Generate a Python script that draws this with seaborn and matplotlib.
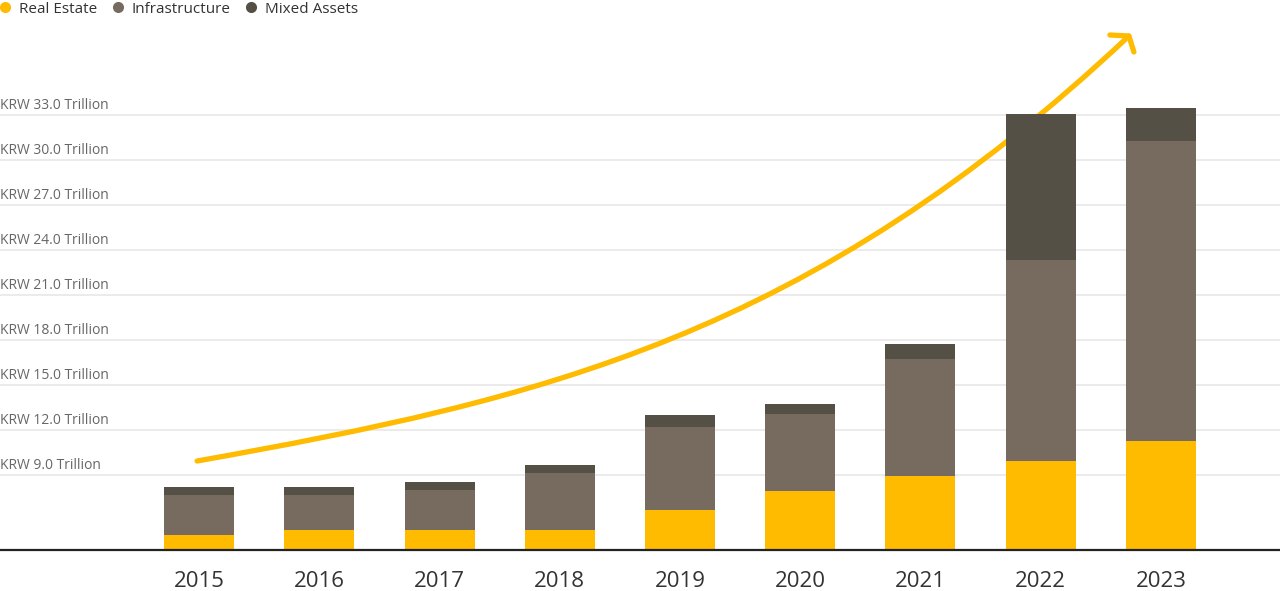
import matplotlib
matplotlib.use("Agg")
import matplotlib.pyplot as plt
import matplotlib.transforms as mtransforms
from matplotlib.path import Path
from matplotlib.patches import PathPatch
from matplotlib.lines import Line2D
import numpy as np
import pandas as pd
import seaborn as sns

# ---------------- data ----------------
years = ["2015", "2016", "2017", "2018", "2019", "2020", "2021", "2022", "2023"]
real_estate = [5.00, 5.33, 5.33, 5.33, 6.67, 7.93, 8.93, 9.93, 11.27]
infrastructure = [2.67, 2.33, 2.67, 3.80, 5.53, 5.13, 7.80, 13.40, 20.00]
mixed_assets = [0.53, 0.53, 0.53, 0.53, 0.80, 0.67, 1.00, 9.73, 2.20]
series_names = ["Real Estate", "Infrastructure", "Mixed Assets"]
tick_values = [9.0, 12.0, 15.0, 18.0, 21.0, 24.0, 27.0, 30.0, 33.0]
tick_labels = [f"KRW {v:.1f} Trillion" for v in tick_values]

colors = {"Real Estate": "#FFBB00", "Infrastructure": "#766B5E", "Mixed Assets": "#545045"}

df = pd.DataFrame({
    "year": years,
    "re": real_estate,
    "re_inf": np.array(real_estate) + np.array(infrastructure),
    "total": np.array(real_estate) + np.array(infrastructure) + np.array(mixed_assets),
})

sns.set_theme(style="white")
plt.rcParams["font.family"] = ["Open Sans", "DejaVu Sans"]

fig = plt.figure(figsize=(12.8, 5.91), dpi=100)
ax = fig.add_axes([0, 41 / 591, 1, 550 / 591])

ymin = 4.0
ymax = ymin + 550 / 15
ax.set_ylim(ymin, ymax)

# gridlines
for v in tick_values:
    ax.axhline(v, color="#e8e8e8", lw=1.2, zorder=0)

width = 70 / 120.25
sns.barplot(data=df, x="year", y="total", color=colors["Mixed Assets"], width=width,
            saturation=1, ax=ax, zorder=2, errorbar=None, linewidth=0)
sns.barplot(data=df, x="year", y="re_inf", color=colors["Infrastructure"], width=width,
            saturation=1, ax=ax, zorder=3, errorbar=None, linewidth=0)
sns.barplot(data=df, x="year", y="re", color=colors["Real Estate"], width=width,
            saturation=1, ax=ax, zorder=4, errorbar=None, linewidth=0)
for p in ax.patches:
    p.set_edgecolor("none")

ax.set_xlim(-0.5 - 139 / 120.25, 8.5 + 59 / 120.25)

# arrow (decorative trend curve), pixel-space control points converted to data
def px2data(px, py):
    return ((px - 199) / 120.25, ymin + (550 - py) / 15)

p0 = (197, 461)
p3 = (1129, 36)
a, b = 345, 320
p1 = (p0[0] + a, p0[1] - 0.178 * a)
p2 = (p3[0] - b, p3[1] + 0.94 * b)
verts = [px2data(*p) for p in (p0, p1, p2, p3)]
path = Path(verts, [Path.MOVETO, Path.CURVE4, Path.CURVE4, Path.CURVE4])
ax.add_patch(PathPatch(path, fill=False, edgecolor="#FFBB00", lw=3.8,
                       capstyle="round", zorder=1))
head = [px2data(1110, 35), px2data(1129, 36), px2data(1134, 52)]
ax.plot([h[0] for h in head], [h[1] for h in head], color="#FFBB00", lw=3.8,
        solid_capstyle="round", solid_joinstyle="round", zorder=1)

# axes styling
for s in ["top", "right", "left"]:
    ax.spines[s].set_visible(False)
ax.spines["bottom"].set_color("#222222")
ax.spines["bottom"].set_linewidth(1.6)
ax.spines["bottom"].set_zorder(5)
ax.set_yticks([])
ax.set_xlabel("")
ax.set_ylabel("")
ax.tick_params(axis="x", length=0, pad=15, labelsize=16, labelcolor="#333333")

# y labels above gridlines
trans = ax.get_yaxis_transform() + mtransforms.ScaledTranslation(0, 0.095, fig.dpi_scale_trans)
for v, lab in zip(tick_values, tick_labels):
    ax.text(0.0, v, lab, transform=trans, ha="left", va="center",
            fontsize=10, color="#666666")

# legend
handles = [Line2D([0], [0], marker="o", linestyle="none", markersize=8,
                  markerfacecolor=colors[n], markeredgecolor="none") for n in series_names]
fig.legend(handles, series_names, loc="upper left", bbox_to_anchor=(0.0, 0.997),
           ncol=3, frameon=False, fontsize=11, handletextpad=0.54,
           columnspacing=1.0, handlelength=0.7, borderpad=0, borderaxespad=0,
           labelcolor="#333333")

fig.savefig("out.png", dpi=100)
